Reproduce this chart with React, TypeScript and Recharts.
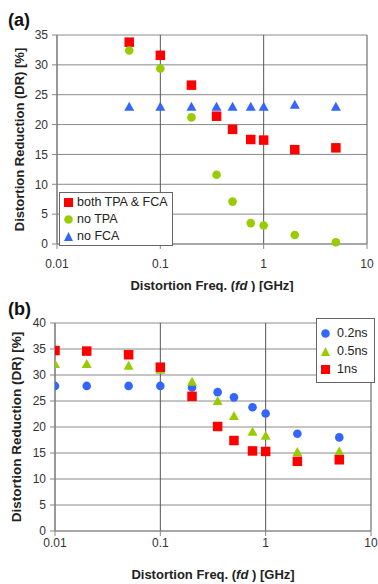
import React from "react";
import { ScatterChart, Scatter, XAxis, YAxis, CartesianGrid, Legend } from "recharts";

// (a) distortion reduction vs frequency, TPA / FCA cases
const freqA = [0.05, 0.1, 0.2, 0.35, 0.5, 0.75, 1, 2, 5];
const bothTpaFca = [33.8, 31.6, 26.6, 21.4, 19.2, 17.5, 17.4, 15.8, 16.1];
const noTpa = [32.4, 29.4, 21.2, 11.6, 7.1, 3.5, 3.1, 1.5, 0.3];
const noFca = [23.0, 23.0, 23.0, 23.0, 23.0, 23.0, 23.0, 23.3, 23.0];

// (b) carrier lifetime cases
const freqB = [0.01, 0.02, 0.05, 0.1, 0.2, 0.35, 0.5, 0.75, 1, 2, 5];
const ns02 = [27.9, 27.9, 27.9, 27.9, 27.6, 26.7, 25.7, 23.8, 22.6, 18.7, 18.0];
const ns05 = [32.1, 32.1, 31.8, 31.0, 28.7, 25.0, 22.1, 19.1, 18.3, 15.2, 15.3];
const ns1 = [34.7, 34.6, 33.9, 31.5, 25.9, 20.1, 17.4, 15.4, 15.3, 13.4, 13.7];

const namesA = ["both TPA & FCA", "no TPA", "no FCA"];
const namesB = ["0.2ns", "0.5ns", "1ns"];

const xTicks = [0.01, 0.1, 1, 10];
const yTicksA = [0, 5, 10, 15, 20, 25, 30, 35];
const yTicksB = [0, 5, 10, 15, 20, 25, 30, 35, 40];

const RED = "#ff0000";
const GREEN = "#99cc00";
const BLUE = "#3366ff";
const FONT = "Arial, 'Liberation Sans', sans-serif";

const toPoints = (xs: number[], ys: number[]) => xs.map((x, i) => ({ x, y: ys[i] }));

const Square = (p: any) => (
  <rect x={p.cx - 4.75} y={p.cy - 4.75} width={9.5} height={9.5} fill={p.fill} />
);
const Dot = (p: any) => <circle cx={p.cx} cy={p.cy} r={4.3} fill={p.fill} />;
const Tri = (p: any) => (
  <polygon
    points={`${p.cx},${p.cy - 5} ${p.cx - 5},${p.cy + 4} ${p.cx + 5},${p.cy + 4}`}
    fill={p.fill}
  />
);

const icon = (type: string, color: string) => {
  if (type === "square") return <rect x={0} y={0} width={9} height={9} fill={color} />;
  if (type === "circle") return <circle cx={4.5} cy={4.5} r={4.3} fill={color} />;
  return <polygon points="4.5,0 0,9 9,9" fill={color} />;
};

const LegendBox = (opt: any) => (props: any) => {
  const items = [...(props.payload || [])].sort(
    (a: any, b: any) => opt.order.indexOf(a.value) - opt.order.indexOf(b.value)
  );
  return (
    <div
      style={{
        background: "#fff",
        border: "1px solid #666",
        padding: opt.padding,
        fontFamily: FONT,
        fontSize: 12.5,
        color: "#222",
        lineHeight: opt.lh + "px",
      }}
    >
      {items.map((item: any) => (
        <div key={item.value} style={{ display: "flex", alignItems: "center", height: opt.lh }}>
          <svg width={9} height={9} style={{ marginRight: opt.gap }}>
            {icon(item.type, item.color)}
          </svg>
          <span>{item.value}</span>
        </div>
      ))}
    </div>
  );
};

// y is the baseline inside the chart's own svg
const xTitle = (y: number) => (props: any) => {
  const vb = props.viewBox;
  return (
    <text
      x={vb.x + vb.width / 2}
      y={y}
      textAnchor="middle"
      fontFamily={FONT}
      fontWeight="bold"
      fontSize={13}
      fill="#222"
    >
      Distortion Freq. (<tspan fontStyle="italic">fd</tspan> ) [GHz]
    </text>
  );
};

const yTitle = (x: number, size: number) => (props: any) => {
  const vb = props.viewBox;
  const cy = vb.y + vb.height / 2;
  return (
    <text
      x={x}
      y={cy}
      transform={`rotate(-90, ${x}, ${cy})`}
      textAnchor="middle"
      dominantBaseline="central"
      fontFamily={FONT}
      fontWeight="bold"
      fontSize={size}
      fill="#222"
    >
      Distortion Reduction (DR) [%]
    </text>
  );
};

const tickStyle = { fill: "#333", fontSize: 12, fontFamily: FONT };
const fmt = (v: number) => String(v);

const panelTag = (t: string, top: number) => (
  <div
    style={{
      position: "absolute",
      left: 8,
      top,
      fontFamily: FONT,
      fontWeight: "bold",
      fontSize: 18,
      lineHeight: "18px",
      color: "#111",
    }}
  >
    {t}
  </div>
);

export default function App() {
  return (
    <div style={{ position: "absolute", left: 0, top: 0, width: 378, height: 584, background: "#fff" }}>
      <div style={{ position: "absolute", left: 0, top: 0 }}>
        <ScatterChart width={378} height={292} margin={{ top: 35, right: 11, left: 27, bottom: 0 }}>
          <CartesianGrid vertical={false} stroke="#8a8a8a" />
          <CartesianGrid horizontal={false} stroke="#555" />
          <XAxis
            dataKey="x"
            type="number"
            scale="log"
            domain={[0.01, 10]}
            ticks={xTicks}
            tickFormatter={fmt}
            allowDataOverflow
            height={48}
            tick={tickStyle}
            tickSize={5}
            tickMargin={10}
            stroke="#888"
            label={{ content: xTitle(289.5) }}
          />
          <YAxis
            dataKey="y"
            type="number"
            domain={[0, 35]}
            ticks={yTicksA}
            width={30}
            tick={tickStyle}
            tickSize={5}
            tickMargin={4}
            stroke="#888"
            label={{ content: yTitle(19.5, 13) }}
          />
          <Legend
            layout="vertical"
            align="center"
            verticalAlign="middle"
            wrapperStyle={{ left: 59, top: 192, width: "auto" }}
            content={LegendBox({ order: namesA, padding: "1px 4px 0 4px", lh: 17, gap: 4 })}
          />
          <Scatter name={namesA[0]} data={toPoints(freqA, bothTpaFca)} fill={RED} legendType="square" shape={Square} isAnimationActive={false} />
          <Scatter name={namesA[1]} data={toPoints(freqA, noTpa)} fill={GREEN} legendType="circle" shape={Dot} isAnimationActive={false} />
          <Scatter name={namesA[2]} data={toPoints(freqA, noFca)} fill={BLUE} legendType="triangle" shape={Tri} isAnimationActive={false} />
        </ScatterChart>
      </div>
      {panelTag("(a)", 11)}

      <div style={{ position: "absolute", left: 0, top: 292 }}>
        <ScatterChart width={378} height={292} margin={{ top: 31, right: 7, left: 25, bottom: 0 }}>
          <CartesianGrid vertical={false} stroke="#8a8a8a" />
          <CartesianGrid horizontal={false} stroke="#555" />
          <XAxis
            dataKey="x"
            type="number"
            scale="log"
            domain={[0.01, 10]}
            ticks={xTicks}
            tickFormatter={fmt}
            allowDataOverflow
            height={53}
            tick={tickStyle}
            tickSize={5}
            tickMargin={2}
            stroke="#888"
            label={{ content: xTitle(286.5) }}
          />
          <YAxis
            dataKey="y"
            type="number"
            domain={[0, 40]}
            ticks={yTicksB}
            width={30}
            tick={tickStyle}
            tickSize={5}
            tickMargin={4}
            stroke="#888"
            label={{ content: yTitle(16.5, 13.5) }}
          />
          <Legend
            layout="vertical"
            align="center"
            verticalAlign="middle"
            wrapperStyle={{ left: 316, top: 26, width: "auto" }}
            content={LegendBox({ order: namesB, padding: "5px 6px 4px 4px", lh: 18, gap: 7 })}
          />
          <Scatter name={namesB[0]} data={toPoints(freqB, ns02)} fill={BLUE} legendType="circle" shape={Dot} isAnimationActive={false} />
          <Scatter name={namesB[1]} data={toPoints(freqB, ns05)} fill={GREEN} legendType="triangle" shape={Tri} isAnimationActive={false} />
          <Scatter name={namesB[2]} data={toPoints(freqB, ns1)} fill={RED} legendType="square" shape={Square} isAnimationActive={false} />
        </ScatterChart>
      </div>
      {panelTag("(b)", 300)}
    </div>
  );
}
